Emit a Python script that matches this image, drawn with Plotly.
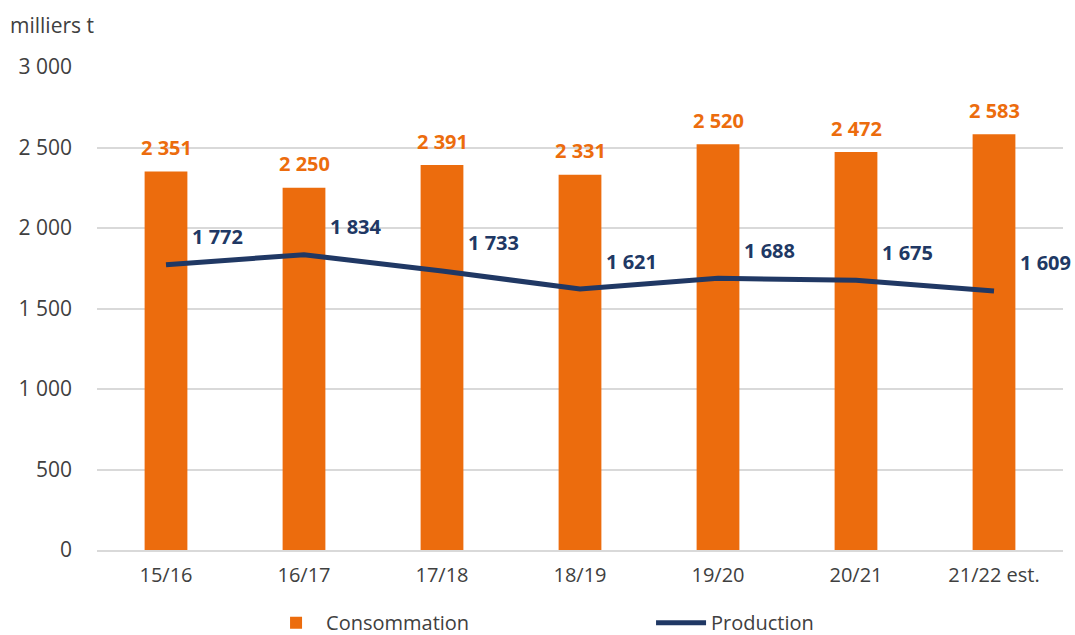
import plotly.graph_objects as go

categories = ["15/16", "16/17", "17/18", "18/19", "19/20", "20/21", "21/22 est."]
consommation = [2351, 2250, 2391, 2331, 2520, 2472, 2583]
production = [1772, 1834, 1733, 1621, 1688, 1675, 1609]
y_ticks = [0, 500, 1000, 1500, 2000, 2500, 3000]

ORANGE = "#EC6C0D"
NAVY = "#203864"
TEXT = "#404040"
FONT = "Open Sans"


def fmt(v):
    return f"{v:,}".replace(",", " ")


fig = go.Figure()
fig.add_trace(go.Bar(
    x=categories, y=consommation, name="Consommation",
    marker=dict(color=ORANGE, line=dict(width=0)),
))
fig.add_trace(go.Scatter(
    x=categories, y=production, name="Production", mode="lines",
    line=dict(color=NAVY, width=5),
))

for c, v in zip(categories, consommation):
    fig.add_annotation(
        x=c, y=v, text=f"<b>{fmt(v)}</b>", showarrow=False,
        xanchor="center", yanchor="middle", yshift=24,
        font=dict(family=FONT, size=20, color=ORANGE),
    )

for c, v in zip(categories, production):
    fig.add_annotation(
        x=c, y=v, text=f"<b>{fmt(v)}</b>", showarrow=False,
        xanchor="left", yanchor="middle", xshift=24, yshift=28,
        font=dict(family=FONT, size=20, color=NAVY),
    )

fig.add_annotation(
    x=0, y=1, xref="paper", yref="paper", text="milliers t", showarrow=False,
    xanchor="left", yanchor="middle", xshift=-89, yshift=42,
    font=dict(family=FONT, size=21, color=TEXT),
)

fig.update_layout(
    width=1075, height=635,
    margin=dict(l=97, r=12, t=67, b=85, autoexpand=False),
    paper_bgcolor="white", plot_bgcolor="white",
    bargap=0.69,
    font=dict(family=FONT, size=20, color=TEXT),
    showlegend=True,
    legend=dict(
        orientation="h", x=0.175, xanchor="left", y=-0.11, yanchor="top",
        font=dict(family=FONT, size=20, color=TEXT),
        entrywidth=320, itemwidth=50,
    ),
    xaxis=dict(
        range=[-0.5, len(categories) - 0.5],
        showgrid=False, showline=True, linecolor="#D9D9D9", linewidth=2,
        ticks="", tickfont=dict(size=20), ticklabelstandoff=6,
    ),
    yaxis=dict(
        range=[0, 3000], tickvals=y_ticks, ticktext=[fmt(v) for v in y_ticks],
        showgrid=True, gridcolor="#D9D9D9", gridwidth=2,
        zeroline=False, ticks="", ticklen=0, tickfont=dict(size=21),
        ticklabelstandoff=24,
    ),
)

fig.write_html(
    "out.html",
    config={"displayModeBar": False},
    post_script="document.body.style.margin='0';document.body.style.overflow='hidden';",
)
